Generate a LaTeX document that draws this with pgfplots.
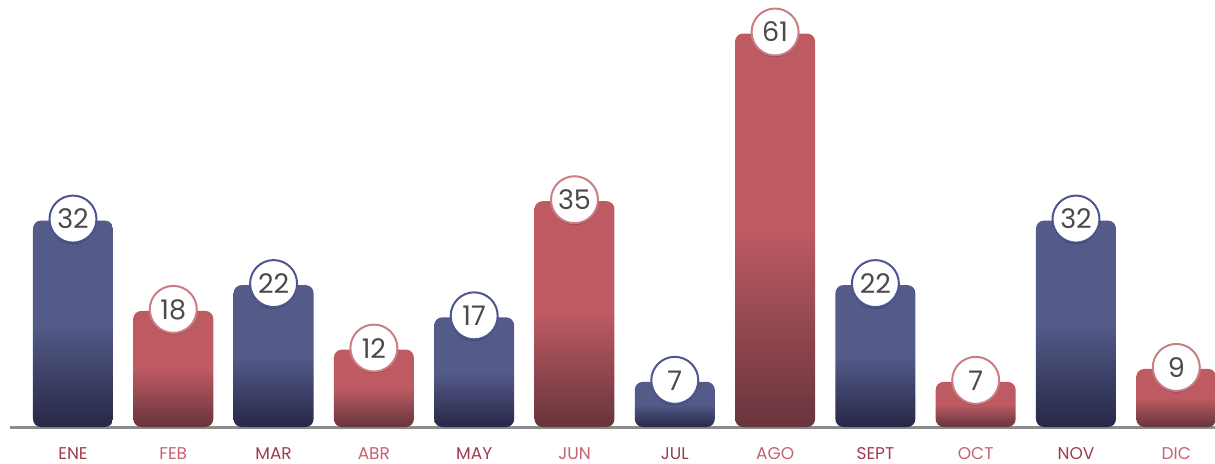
\documentclass[border=0pt]{standalone}
\usepackage{pgfplots}
\pgfplotsset{compat=1.18}
\usepackage{fontspec}
\setmainfont{Poppins}
\usetikzlibrary{shadows}
\definecolor{bluemain}{HTML}{545B89}
\definecolor{bluedark}{HTML}{272747}
\definecolor{redmain}{HTML}{BD5A62}
\definecolor{reddark}{HTML}{67343C}
\definecolor{blueedge}{HTML}{4E5591}
\definecolor{rededge}{HTML}{CC7D83}
\definecolor{labdark}{HTML}{9B3E4E}
\definecolor{lablight}{HTML}{C4636F}
\definecolor{axisgray}{HTML}{8C8C8C}
\definecolor{numgray}{HTML}{4A4A4A}
\pgfdeclareverticalshading{bluebar}{100bp}{color(0bp)=(bluedark); color(25bp)=(bluedark); color(50bp)=(bluemain); color(100bp)=(bluemain)}
\pgfdeclareverticalshading{redbar}{100bp}{color(0bp)=(reddark); color(25bp)=(reddark); color(50bp)=(redmain); color(100bp)=(redmain)}
\pgfplotsset{
  bluebar/.style={draw=none, shading=bluebar, rounded corners=8pt, nodes near coords style={draw=blueedge}},
  redbar/.style={draw=none, shading=redbar, rounded corners=8pt, nodes near coords style={draw=rededge}},
}
\begin{document}
\begin{tikzpicture}
\useasboundingbox (0,0) rectangle (1215pt,463pt);
\begin{axis}[
  at={(10pt,36pt)}, anchor=south west,
  width=1205pt, height=427pt, scale only axis,
  xmin=-0.628, xmax=11.386, ymin=3, ymax=69.2,
  enlargelimits=false,
  axis y line=none,
  axis x line*=bottom,
  axis line style={axisgray, line width=3pt},
  xtick={0,...,11},
  xticklabels={\textcolor{labdark}{ENE},\textcolor{lablight}{FEB},\textcolor{labdark}{MAR},\textcolor{lablight}{ABR},\textcolor{labdark}{MAY},\textcolor{lablight}{JUN},\textcolor{labdark}{JUL},\textcolor{lablight}{AGO},\textcolor{labdark}{SEPT},\textcolor{lablight}{OCT},\textcolor{labdark}{NOV},\textcolor{lablight}{DIC}},
  major tick length=0pt,
  x tick label style={font=\fontsize{17}{17}\selectfont, inner sep=0pt, yshift=-20pt},
  /pgf/number format/assume math mode=true,
  ybar, bar width=80pt, bar shift=0pt,
  y filter/.expression={y+3},
  point meta=rawy,
  nodes near coords,
  nodes near coords style={circle, fill=white, line width=2pt, minimum size=47pt, inner sep=0pt,
     font=\fontsize{27}{27}\selectfont, text=numgray, anchor=center, yshift=1.5pt,
     drop shadow={shadow xshift=0pt, shadow yshift=-1.5pt, opacity=0.25, fill=black}},
]
\addplot[bluebar] coordinates {(0,32)};
\addplot[redbar] coordinates {(1,18)};
\addplot[bluebar] coordinates {(2,22)};
\addplot[redbar] coordinates {(3,12)};
\addplot[bluebar] coordinates {(4,17)};
\addplot[redbar] coordinates {(5,35)};
\addplot[bluebar] coordinates {(6,7)};
\addplot[redbar] coordinates {(7,61)};
\addplot[bluebar] coordinates {(8,22)};
\addplot[redbar] coordinates {(9,7)};
\addplot[bluebar] coordinates {(10,32)};
\addplot[redbar] coordinates {(11,9)};
\end{axis}
\end{tikzpicture}
\end{document}
